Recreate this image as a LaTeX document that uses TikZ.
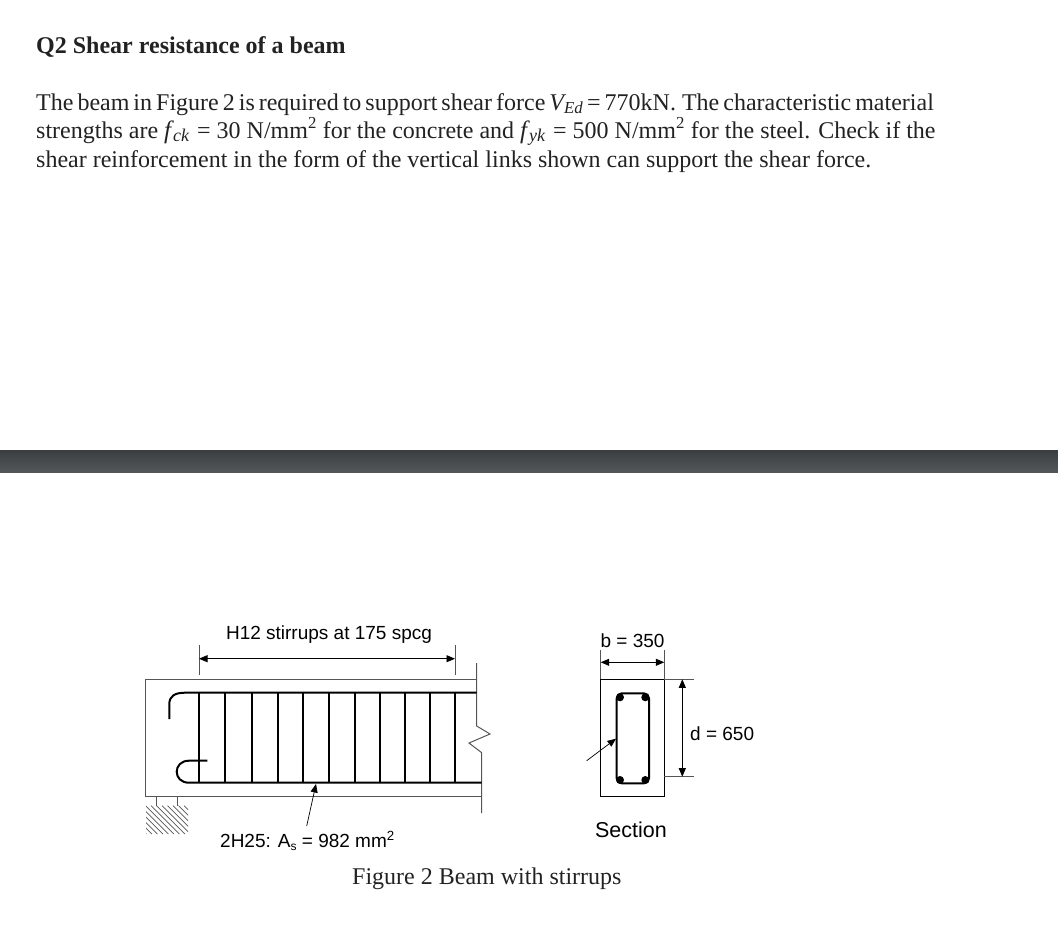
\documentclass[tikz,border=0pt]{standalone}
\usepackage{fontspec}
\setmainfont{Liberation Serif}
\setsansfont{Liberation Sans}
\usetikzlibrary{arrows.meta}
\definecolor{inkcol}{HTML}{222222}
\definecolor{edgecol}{HTML}{555555}
\definecolor{bandtop}{HTML}{3B3E41}
\definecolor{bandbot}{HTML}{53575A}
\newcommand{\matsym}[2]{{\itshape\fontsize{25}{26}\selectfont #1\kern1.5pt\raisebox{-3.5pt}{\fontsize{18}{18}\selectfont\kern.6pt #2\kern2pt}}}
\tikzset{
	bodyline/.style={anchor=base west, inner sep=0pt, text=inkcol, font=\fontsize{24}{26}\selectfont},
	figlabel/.style={anchor=base, inner sep=0pt, text=black, font=\sffamily\fontsize{19}{21}\selectfont},
	bar/.style={line width=2pt, black},
	stirrup/.style={line width=1.8pt, black},
	outline/.style={line width=1pt, edgecol},
	dimline/.style={line width=.8pt, black, {Triangle[length=8.5pt,width=7pt]}-{Triangle[length=8.5pt,width=7pt]}},
	leader/.style={line width=.7pt, black, -{Triangle[length=8.5pt,width=7pt]}},
	extline/.style={line width=.8pt, edgecol}
}
\begin{document}
\begin{tikzpicture}[x=1pt, y=-1pt]
	\useasboundingbox (0, 0) rectangle (1058, 937);
	\node [bodyline, font=\bfseries\fontsize{24}{26}\selectfont] (Title) at (36, 53) {Q2 Shear resistance of a beam};
	\node [bodyline] (Line_1) at (36, 110) {\spaceskip=4pt The beam in Figure 2 is required to support shear force \textit{V\textsubscript{Ed}}\kern4pt=\kern4pt 770kN.\kern2pt{} The characteristic material};
	\node [bodyline] (Line_2) at (36, 138) {strengths are \matsym{f}{ck} = 30 N/mm\textsuperscript{2} for the concrete and \matsym{f}{yk} = 500 N/mm\textsuperscript{2} for the steel. Check if the};
	\node [bodyline] (Line_3) at (36, 167) {shear reinforcement in the form of the vertical links shown can support the shear force.};
	\shade [top color=bandtop, bottom color=bandbot] (0, 450) rectangle (1058, 472);

	\coordinate (A) at (145.7, 679.3);
	\coordinate (B) at (476.7, 679.3);
	\coordinate (C) at (145.7, 796);
	\coordinate (D) at (481.7, 796);
	\draw [outline] (B) -- (A) -- (C) -- (D);
	\draw [outline] (476.7, 663) -- (476.7, 726) -- (490, 734) -- (469, 743) -- (481.7, 752.7) -- (481.7, 813);

	\foreach \x in {199, 225, 251.7, 278.3, 303.3, 329, 354.7, 380, 405.3, 430, 455}
		\draw [stirrup] (\x, 692.7) -- (\x, 782.7);
	\draw [bar] (169.3, 719) -- (169.3, 704) .. controls (169.3, 696) and (175, 692.7) .. (185, 692.7) -- (476.7, 692.7);
	\draw [bar] (207.3, 760.7) -- (189, 760.7) .. controls (181, 760.7) and (176.7, 766) .. (176.7, 771.7) .. controls (176.7, 777.5) and (181, 782.7) .. (189, 782.7) -- (481.7, 782.7);

	\coordinate (Left_Top) at (199, 645);
	\coordinate (Left_Bot) at (199, 675);
	\coordinate (Right_Top) at (455, 645);
	\coordinate (Right_Bot) at (455, 675);
	\draw [extline] (Left_Top) -- (Left_Bot);
	\draw [extline] (Right_Top) -- (Right_Bot);
	\draw [dimline] (199, 658.7) -- (455, 658.7);
	\node [figlabel] (Stirrups) at (329, 639) {H12 stirrups at 175 spcg};
	\node [figlabel, anchor=base west] (Steel) at (220, 847) {2H25: A\raisebox{-3pt}{\fontsize{12}{12}\selectfont s} = 982 mm\textsuperscript{2}};
	\coordinate (Steel_Tip) at (316, 784);
	\draw [leader] (306.7, 826) -- (Steel_Tip);

	\draw [outline] (156.7, 796) -- (156.7, 805.7);
	\draw [outline] (177.3, 796) -- (177.3, 805.7);
	\begin{scope}
		\clip (146, 805.7) rectangle (188, 834);
		\foreach \h in {118, 123.5, ..., 190}
			\draw [line width=.7pt, edgecol] (\h, 805.7) -- (\h+28.3, 834);
	\end{scope}

	\draw [outline, black] (600.7, 679.3) rectangle (664.3, 796);
	\draw [bar, rounded corners=5pt] (616.7, 693.3) rectangle (649, 783.3);
	\foreach \x in {620, 645.3}
		\foreach \y in {697.3, 780}
			\fill [black] (\x, \y) circle (4);
	\draw [extline] (600.7, 650) -- (600.7, 679.3);
	\draw [extline] (664.3, 650) -- (664.3, 679.3);
	\draw [dimline] (600.7, 662.3) -- (664.3, 662.3);
	\draw [extline] (664.3, 679.3) -- (694.3, 679.3);
	\draw [extline] (664.3, 776.7) -- (694.3, 776.7);
	\draw [dimline] (682.3, 679.3) -- (682.3, 776.7);
	\draw [leader] (586.7, 760.7) -- (616, 738.7);
	\node [figlabel] (Width) at (632.5, 647) {b = 350};
	\node [figlabel, anchor=base west] (Depth) at (690, 740) {d = 650};
	\node [figlabel, font=\sffamily\fontsize{21.5}{23}\selectfont] (Section) at (631, 837) {Section};
	\node [bodyline] (Caption) at (352, 884) {Figure 2 Beam with stirrups};
\end{tikzpicture}
\end{document}
